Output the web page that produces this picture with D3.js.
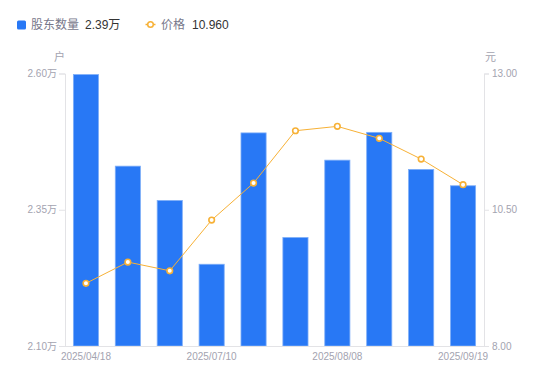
<!DOCTYPE html>
<html>
<head>
<meta charset="utf-8">
<script src="https://cdn.jsdelivr.net/npm/d3@7"></script>
<style>
  body { margin: 0; background: #fff; }
  svg text { font-family: "Liberation Sans", "Noto Sans CJK SC", sans-serif; }
</style>
</head>
<body>
<div id="chart"></div>
<script>
// data
var dates = ["2025/04/18", "2025/05/30", "2025/06/20", "2025/07/10", "2025/07/20",
             "2025/07/31", "2025/08/08", "2025/08/20", "2025/08/29", "2025/09/19"];
var holders = [2.598, 2.430, 2.367, 2.250, 2.491, 2.299, 2.441, 2.492, 2.424, 2.394]; // 万户
var prices = [9.15, 9.54, 9.38, 10.31, 10.99, 11.95, 12.03, 11.81, 11.43, 10.96];   // 元
var xTickLabels = ["2025/04/18", "2025/07/10", "2025/08/08", "2025/09/19"];
var leftTicks = [2.10, 2.35, 2.60];
var rightTicks = [8.00, 10.50, 13.00];

var svgWidth = 550, svgHeight = 381;
var margin = {top: 73.5, right: 66, bottom: 35, left: 65};
var width = svgWidth - margin.left - margin.right;
var height = svgHeight - margin.top - margin.bottom;

var barColor = "#2878f5";
var lineColor = "#f7b136";
var axisColor = "#e3e3e6";
var labelColor = "#a3a3b0";

var svg = d3.select("#chart").append("svg")
  .attr("width", svgWidth)
  .attr("height", svgHeight);

// legend
var legend = svg.append("g");
legend.append("rect")
  .attr("x", 17).attr("y", 20.5)
  .attr("width", 9).attr("height", 9)
  .attr("rx", 1.5)
  .attr("fill", barColor);
legend.append("text").attr("x", 31).attr("y", 29)
  .attr("font-size", 12).attr("fill", "#77778a").text("股东数量");
legend.append("text").attr("x", 85).attr("y", 29)
  .attr("font-size", 12).attr("fill", "#333").text(holders[holders.length - 1].toFixed(2) + "万");
legend.append("line")
  .attr("x1", 145.5).attr("x2", 155.5).attr("y1", 24.5).attr("y2", 24.5)
  .attr("stroke", lineColor).attr("stroke-width", 1.5);
legend.append("circle")
  .attr("cx", 150.5).attr("cy", 24.5).attr("r", 2.8)
  .attr("fill", "#fff").attr("stroke", lineColor).attr("stroke-width", 1.5);
legend.append("text").attr("x", 161).attr("y", 29)
  .attr("font-size", 12).attr("fill", "#77778a").text("价格");
legend.append("text").attr("x", 192).attr("y", 29)
  .attr("font-size", 12).attr("fill", "#333").text(prices[prices.length - 1].toFixed(3));

var chartGroup = svg.append("g")
  .attr("transform", `translate(${margin.left}, ${margin.top})`);

var xScale = d3.scaleBand()
  .domain(dates)
  .range([0, width])
  .paddingInner(0.4)
  .paddingOuter(0.2);

var yLeft = d3.scaleLinear().domain([2.10, 2.60]).range([height, 0]);
var yRight = d3.scaleLinear().domain([8, 13]).range([height, 0]);

// bars
chartGroup.selectAll(".bar")
  .data(holders)
  .enter()
  .append("rect")
  .classed("bar", true)
  .attr("x", (d, i) => xScale(dates[i]))
  .attr("y", d => yLeft(d))
  .attr("width", xScale.bandwidth())
  .attr("height", d => height - yLeft(d))
  .attr("fill", barColor)
  .attr("stroke", "#7eaef8")
  .attr("stroke-width", 0.8);

// axes
var leftAxis = d3.axisLeft(yLeft)
  .tickValues(leftTicks)
  .tickSize(6)
  .tickPadding(2)
  .tickFormat(d => d.toFixed(2) + "万");
var rightAxis = d3.axisRight(yRight)
  .tickValues(rightTicks)
  .tickSize(5)
  .tickPadding(3)
  .tickFormat(d => d.toFixed(2));
var bottomAxis = d3.axisBottom(xScale)
  .tickValues(xTickLabels)
  .tickSize(0)
  .tickPadding(7);

function styleAxis(g) {
  g.select(".domain").attr("stroke", axisColor);
  g.selectAll(".tick line").attr("stroke", axisColor);
  g.selectAll(".tick text")
    .attr("fill", labelColor)
    .attr("font-size", 10)
    .attr("font-family", "'Liberation Sans', 'Noto Sans CJK SC', sans-serif");
}

chartGroup.append("g").call(leftAxis).call(styleAxis);
chartGroup.append("g")
  .attr("transform", `translate(${width}, 0)`)
  .call(rightAxis).call(styleAxis);
chartGroup.append("g")
  .attr("transform", `translate(0, ${height})`)
  .call(bottomAxis).call(styleAxis)
  .call(g => g.select(".domain").attr("d", `M0,0.5H${width}`));

// axis units
svg.append("text").attr("x", 54).attr("y", 61)
  .attr("font-size", 11).attr("fill", labelColor).text("户");
svg.append("text").attr("x", 485).attr("y", 61)
  .attr("font-size", 11).attr("fill", labelColor).text("元");

// price line
var line = d3.line()
  .x((d, i) => xScale(dates[i]) + xScale.bandwidth() / 2)
  .y(d => yRight(d));

chartGroup.append("path")
  .datum(prices)
  .attr("d", line)
  .attr("fill", "none")
  .attr("stroke", lineColor)
  .attr("stroke-width", 1);

chartGroup.selectAll(".dot")
  .data(prices)
  .enter()
  .append("circle")
  .classed("dot", true)
  .attr("cx", (d, i) => xScale(dates[i]) + xScale.bandwidth() / 2)
  .attr("cy", d => yRight(d))
  .attr("r", 2.8)
  .attr("fill", "#fff")
  .attr("stroke", lineColor)
  .attr("stroke-width", 1.6);
</script>
</body>
</html>
